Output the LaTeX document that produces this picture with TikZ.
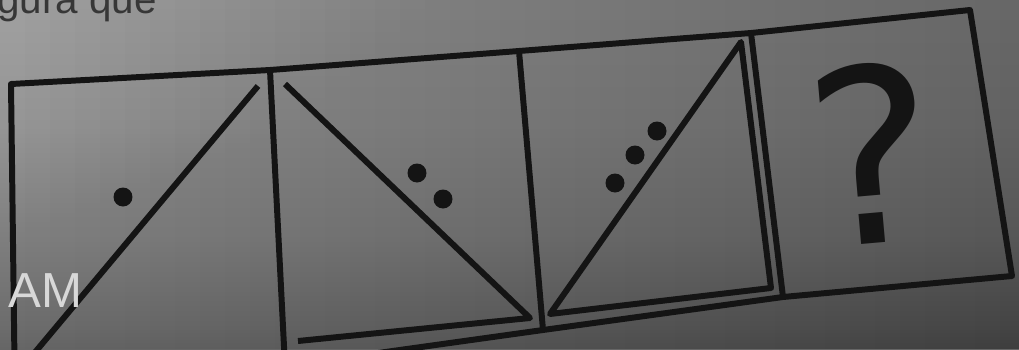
\documentclass[tikz,border=0pt]{standalone}
\usepackage{fontspec}
\setmainfont{Liberation Sans}
\newfontfamily\qmarkfont{DejaVu Sans}
\definecolor{ink}{HTML}{141414}
\definecolor{papertop}{HTML}{B0B0B0}
\definecolor{paperhigh}{HTML}{959595}
\definecolor{paperlow}{HTML}{6C6C6C}
\definecolor{paperbot}{HTML}{303030}
\definecolor{stamp}{HTML}{D8D8D8}
\pgfdeclareverticalshading{paper}{100bp}{color(0bp)=(paperbot); color(28bp)=(paperlow); color(57bp)=(paperhigh); color(100bp)=(papertop)}
\begin{document}
\begin{tikzpicture}[x=0.02cm, y=-0.02cm,
    frame/.style={draw=ink, line width=3.4pt, line join=round},
    dot/.style={circle, fill=ink, inner sep=0pt, minimum size=0.38cm}]
    \path[use as bounding box] (0,0) rectangle (1019,349);
    \shade[shading=paper] (0,0) rectangle (1019,349);
    % darker towards the right
    \foreach \i in {1,...,40}
        \fill[black, opacity=0.008] ({\i*25},0) rectangle (1019,349);

    % outer strip and dividers
    \coordinate (tl) at (11,84);
    \coordinate (t1) at (270,70);
    \coordinate (t2) at (519,51);
    \coordinate (t3) at (751,33);
    \coordinate (tr) at (970,10);
    \coordinate (br) at (1012,276);
    \coordinate (b3) at (783,297);
    \coordinate (b2) at (543,330);
    \coordinate (b1) at (285,366);
    \coordinate (bl) at (15,402);
    \draw[frame] (bl) -- (tl) -- (t1) -- (t2) -- (t3) -- (tr) -- (br) -- (b3) -- (b2) -- (b1) -- cycle;
    \draw[frame] (t1) -- (b1);
    \draw[frame] (t2) -- (b2);
    \draw[frame] (t3) -- (b3);

    % first box
    \coordinate (p1) at (258,86);
    \coordinate (p2) at (16,375);
    \draw[frame] (p1) -- (p2);
    \node[dot] (d1) at (123,197) {};

    % second box
    \coordinate (q1) at (285,84);
    \coordinate (q2) at (530,318);
    \coordinate (q3) at (298,341);
    \draw[frame] (q1) -- (q2) -- (q3);
    \node[dot] (d2) at (417,173) {};
    \node[dot] (d3) at (443,199) {};

    % third box
    \coordinate (r1) at (741,42);
    \coordinate (r2) at (771,288);
    \coordinate (r3) at (550,314);
    \draw[frame] (r3) -- (r1) -- (r2) -- cycle;
    \node[dot] (d4) at (615,183) {};
    \node[dot] (d5) at (635,155) {};
    \node[dot] (d6) at (657,131) {};

    % last box
    \node[rotate=5, inner sep=0pt, text=ink, font=\qmarkfont\fontsize{138}{138}\selectfont] (qm) at (872,153) {?};

    \node[anchor=base west, inner sep=0pt, text=stamp, font=\fontsize{28}{28}\selectfont] (am) at (8,307) {AM};
    \node[anchor=base west, inner sep=0pt, text=ink!85, font=\fontsize{23}{23}\selectfont] (txt) at (-3,13) {gura que};
\end{tikzpicture}
\end{document}
